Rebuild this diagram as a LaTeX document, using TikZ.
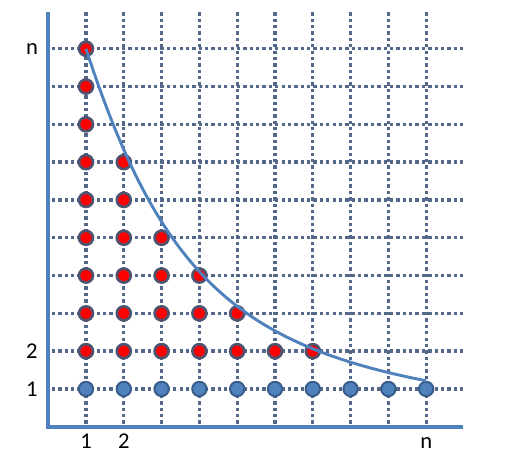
\documentclass[tikz,border=0pt]{standalone}
\usepackage{fontspec}
\setmainfont{Carlito}
\usepackage{tikz}
\usetikzlibrary{calc}
\definecolor{axisblue}{RGB}{79,129,189}
\definecolor{gridgray}{RGB}{84,104,138}
\definecolor{rimblue}{RGB}{56,93,138}
\definecolor{rimgray}{RGB}{78,84,112}
\tikzstyle{gridline}=[gridgray, line width=2.5pt, dash pattern=on 2.5pt off 2.3pt]
\tikzstyle{axisline}=[axisblue, line width=3pt]
\tikzstyle{curveline}=[axisblue, line width=2.2pt]
\tikzstyle{rednode}=[shape=circle, fill=red, draw=rimgray, line width=2pt, minimum size=3.7mm, inner sep=0pt]
\tikzstyle{bluenode}=[shape=circle, fill=axisblue, draw=rimblue, line width=1.5pt, minimum size=3.8mm, inner sep=0pt]
\tikzstyle{ticklabel}=[black, inner sep=0pt, font=\fontsize{17}{19}\selectfont]

\begin{document}
\begin{tikzpicture}
\useasboundingbox (-1.275,-0.69) rectangle (12.376,11.29);

% dotted grid
\foreach \i in {1,...,10}
  \draw[gridline] (\i,0.08) -- (\i,11);
\foreach \j in {1,...,10}
  \draw[gridline] (0.1,\j) -- (11,\j);

% axes
\draw[axisline] (0,10.97) -- (0,0) -- (10.97,0);

% points under the curve
\foreach \i/\top in {1/10,2/7,3/5,4/4,5/3,6/2,7/2}
  \foreach \j in {2,...,\top}
    \node [rednode] (d-\i-\j) at (\i,\j) {};
\foreach \i in {1,...,10}
  \node [bluenode] (d-\i-1) at (\i,1) {};

\draw[curveline] (d-1-10.center) .. controls (2.92,4.1) and (4.96,2.2) .. (d-10-1.north);

% labels
\node [ticklabel] (yn) at (-0.43,10) {n};
\node [ticklabel] (y2) at (-0.43,2) {2};
\node [ticklabel] (y1) at (-0.43,1) {1};
\node [ticklabel] (x1) at (1,-0.39) {1};
\node [ticklabel] (x2) at (2,-0.37) {2};
\node [ticklabel] (xn) at (10,-0.42) {n};
\end{tikzpicture}
\end{document}
